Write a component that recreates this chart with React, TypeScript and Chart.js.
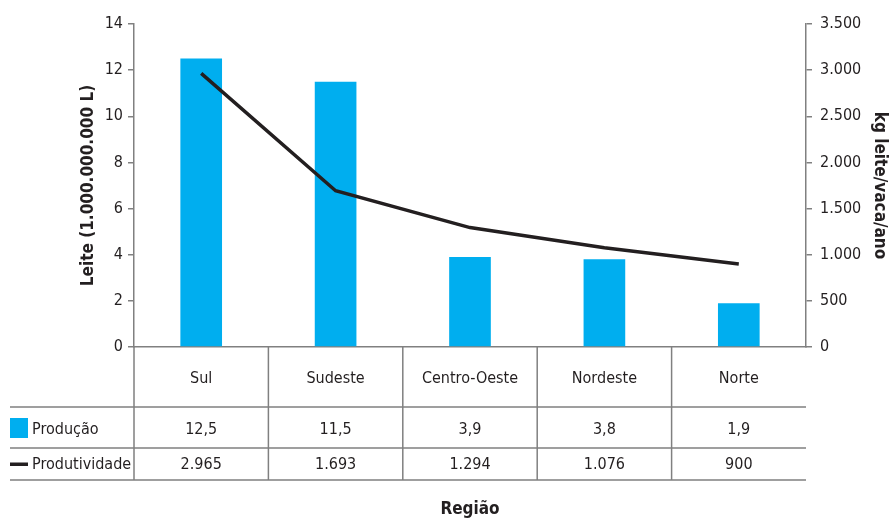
import React, { useEffect, useRef } from "react";
import { Chart, registerables } from "chart.js";

Chart.register(...registerables);

const categories = ["Sul", "Sudeste", "Centro-Oeste", "Nordeste", "Norte"];
const producao = [12.5, 11.5, 3.9, 3.8, 1.9];
const produtividade = [2965, 1693, 1294, 1076, 900];
const seriesNames = ["Produção", "Produtividade"];
const leftTitle = "Leite (1.000.000.000 L)";
const rightTitle = "kg leite/vaca/ano";
const xTitle = "Região";

const FONT = "'Liberation Sans Narrow', 'DejaVu Sans Condensed', sans-serif";
const BLUE = "#00aeef";
const INK = "#231f20";
const GRID = "#808080";

const fmtDec = (v: number) => v.toFixed(1).replace(".", ",");
const fmtInt = (v: number) =>
  String(Math.round(v)).replace(/\B(?=(\d{3})+(?!\d))/g, ".");

const tablePlugin = {
  id: "dataTable",
  afterDraw(chart: any) {
    const { ctx, chartArea } = chart;
    const x = chart.scales.x;
    const top = chartArea.bottom;
    const r1 = top + 60;
    const r2 = top + 101;
    const r3 = top + 133;
    const leftEdge = 10;
    const n = categories.length;
    const bounds: number[] = [];
    for (let i = 0; i <= n; i++) {
      if (i === 0) bounds.push(chartArea.left);
      else if (i === n) bounds.push(chartArea.right);
      else bounds.push((x.getPixelForValue(i - 1) + x.getPixelForValue(i)) / 2);
    }
    ctx.save();
    ctx.strokeStyle = GRID;
    ctx.lineWidth = 1.5;
    ctx.beginPath();
    [r1, r2, r3].forEach((y) => {
      ctx.moveTo(leftEdge, y);
      ctx.lineTo(chartArea.right, y);
    });
    for (let i = 0; i < n; i++) {
      ctx.moveTo(bounds[i], top);
      ctx.lineTo(bounds[i], r3);
    }
    ctx.stroke();

    ctx.fillStyle = INK;
    ctx.font = `16px ${FONT}`;
    ctx.textAlign = "center";
    ctx.textBaseline = "middle";
    for (let i = 0; i < n; i++) {
      const cx = (bounds[i] + bounds[i + 1]) / 2;
      ctx.fillText(categories[i], cx, (top + r1) / 2 + 2);
      ctx.fillText(fmtDec(producao[i]), cx, (r1 + r2) / 2 + 2);
      ctx.fillText(fmtInt(produtividade[i]), cx, (r2 + r3) / 2 + 1);
    }
    // legend keys
    ctx.textAlign = "left";
    ctx.fillStyle = BLUE;
    ctx.fillRect(leftEdge, r1 + 11, 18, 20);
    ctx.fillStyle = INK;
    ctx.fillRect(leftEdge, (r2 + r3) / 2 - 1.5, 18, 3.5);
    ctx.fillText(seriesNames[0], leftEdge + 22, (r1 + r2) / 2 + 2);
    ctx.fillText(seriesNames[1], leftEdge + 22, (r2 + r3) / 2 + 1);
    ctx.restore();
  },
};

export default function App() {
  const ref = useRef<HTMLCanvasElement>(null);
  useEffect(() => {
    if (!ref.current) return;
    Chart.defaults.font.family = FONT;
    Chart.defaults.color = INK;
    const chart = new Chart(ref.current, {
      type: "bar",
      data: {
        labels: categories,
        datasets: [
          {
            type: "line",
            label: seriesNames[1],
            data: produtividade,
            yAxisID: "y1",
            borderColor: INK,
            backgroundColor: INK,
            borderWidth: 3.5,
            pointRadius: 0,
            tension: 0,
            order: 0,
          } as any,
          {
            type: "bar",
            label: seriesNames[0],
            data: producao,
            yAxisID: "y",
            backgroundColor: BLUE,
            categoryPercentage: 1,
            barPercentage: 0.31,
            order: 1,
          },
        ],
      },
      options: {
        responsive: false,
        animation: false,
        layout: { padding: { top: 24, left: 0, right: 0, bottom: 0 } },
        plugins: { legend: { display: false }, tooltip: { enabled: false } },
        scales: {
          x: {
            grid: { display: false },
            ticks: { display: false },
            border: { display: true, color: GRID, width: 1.5 },
            title: {
              display: true,
              text: xTitle,
              font: { size: 17, weight: "bold" },
              color: INK,
              padding: { top: 0, bottom: 2 },
            },
            afterFit: (s: any) => {
              s.height = 175;
            },
          },
          y: {
            position: "left",
            min: 0,
            max: 14,
            ticks: { stepSize: 2, font: { size: 16 }, color: INK, padding: 5 },
            grid: {
              display: true,
              drawOnChartArea: false,
              drawTicks: true,
              tickLength: 6,
              color: GRID,
              lineWidth: 1.5,
            },
            border: { display: true, color: GRID, width: 1.5 },
            title: {
              display: true,
              text: leftTitle,
              font: { size: 17, weight: "bold" },
              color: INK,
              padding: { top: 78, bottom: 0 },
            },
            afterFit: (s: any) => {
              s.width = 134;
            },
          },
          y1: {
            position: "right",
            min: 0,
            max: 3500,
            ticks: {
              stepSize: 500,
              font: { size: 16 },
              color: INK,
              padding: 8,
              callback: (v: any) => fmtInt(Number(v)),
            },
            grid: {
              display: true,
              drawOnChartArea: false,
              drawTicks: true,
              tickLength: 6,
              color: GRID,
              lineWidth: 1.5,
            },
            border: { display: true, color: GRID, width: 1.5 },
            title: {
              display: true,
              text: rightTitle,
              font: { size: 17, weight: "bold" },
              color: INK,
              padding: { top: 3, bottom: 0 },
            },
            afterFit: (s: any) => {
              s.width = 87;
            },
          },
        },
      },
      plugins: [tablePlugin],
    });
    return () => chart.destroy();
  }, []);
  return (
    <div style={{ position: "fixed", left: 0, top: 0, width: 893, height: 522, background: "#fff" }}>
      <canvas ref={ref} width={893} height={522} style={{ display: "block" }} />
    </div>
  );
}
